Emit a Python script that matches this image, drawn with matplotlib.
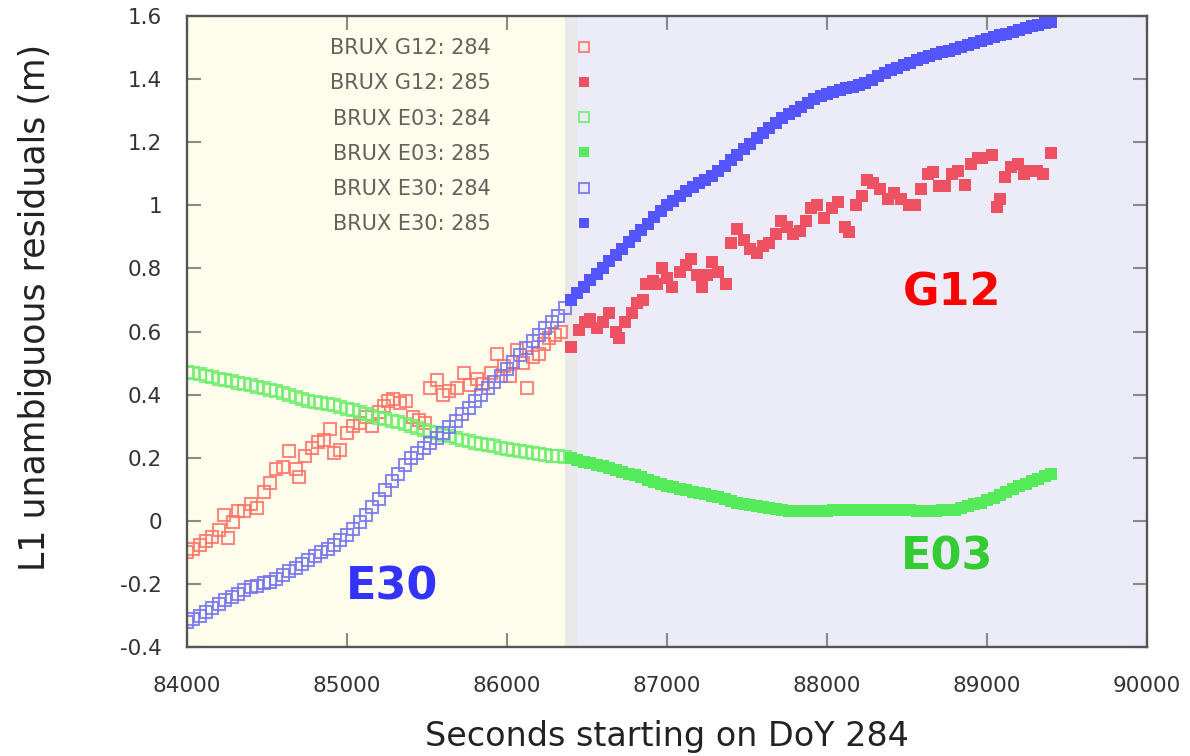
import numpy as np
import matplotlib
matplotlib.use("Agg")
import matplotlib.pyplot as plt
from matplotlib.ticker import FuncFormatter

# ---- data (seconds from DoY 284, residuals in metres) ----
STEP = 40  # sampling of the E30 / E03 tracks

e30_284 = [
    -0.320, -0.310, -0.300, -0.290, -0.275, -0.262, -0.250, -0.242, -0.232, -0.220,
    -0.210, -0.205, -0.198, -0.195, -0.185, -0.172, -0.160, -0.148, -0.138, -0.125,
    -0.112, -0.100, -0.088, -0.075, -0.060, -0.045, -0.025, -0.005, 0.020, 0.045,
    0.070, 0.098, 0.125, 0.150, 0.178, 0.200, 0.215, 0.232, 0.248, 0.262,
    0.280, 0.298, 0.318, 0.338, 0.358, 0.380, 0.400, 0.420, 0.440, 0.460,
    0.480, 0.502, 0.525, 0.548, 0.570, 0.590, 0.610, 0.630, 0.650, 0.675,
]
e30_285 = [
    0.700, 0.722, 0.742, 0.762, 0.782, 0.802, 0.822, 0.842, 0.862, 0.882,
    0.902, 0.922, 0.942, 0.962, 0.982, 1.000, 1.015, 1.030, 1.045, 1.058,
    1.070, 1.080, 1.092, 1.108, 1.125, 1.142, 1.160, 1.178, 1.195, 1.212,
    1.228, 1.245, 1.260, 1.275, 1.288, 1.300, 1.312, 1.325, 1.336, 1.345,
    1.352, 1.360, 1.366, 1.370, 1.374, 1.380, 1.388, 1.398, 1.408, 1.418,
    1.428, 1.436, 1.444, 1.452, 1.460, 1.466, 1.472, 1.478, 1.484, 1.490,
    1.496, 1.502, 1.508, 1.514, 1.520, 1.526, 1.532, 1.538, 1.544, 1.550,
    1.556, 1.562, 1.567, 1.572, 1.576, 1.580,
]
e03_284 = [
    0.472, 0.468, 0.464, 0.460, 0.455, 0.450, 0.446, 0.442, 0.438, 0.434,
    0.430, 0.425, 0.420, 0.415, 0.410, 0.404, 0.398, 0.392, 0.386, 0.381,
    0.377, 0.374, 0.370, 0.366, 0.361, 0.356, 0.350, 0.344, 0.338, 0.332,
    0.327, 0.322, 0.317, 0.312, 0.306, 0.300, 0.294, 0.288, 0.283, 0.278,
    0.273, 0.268, 0.262, 0.257, 0.252, 0.248, 0.244, 0.240, 0.236, 0.232,
    0.229, 0.226, 0.222, 0.219, 0.216, 0.213, 0.210, 0.207, 0.204, 0.201,
]
e03_285 = [
    0.198, 0.193, 0.188, 0.183, 0.178, 0.173, 0.168, 0.162, 0.156, 0.150,
    0.144, 0.138, 0.131, 0.124, 0.117, 0.111, 0.106, 0.101, 0.097, 0.093,
    0.089, 0.085, 0.080, 0.075, 0.069, 0.063, 0.058, 0.053, 0.049, 0.046,
    0.043, 0.040, 0.037, 0.034, 0.032, 0.031, 0.030, 0.031, 0.032, 0.032,
    0.032, 0.033, 0.034, 0.035, 0.036, 0.036, 0.036, 0.035, 0.035, 0.034,
    0.034, 0.034, 0.034, 0.033, 0.032, 0.032, 0.032, 0.032, 0.033, 0.034,
    0.036, 0.040, 0.046, 0.052, 0.058, 0.065, 0.073, 0.082, 0.092, 0.102,
    0.110, 0.118, 0.126, 0.134, 0.141, 0.147,
]

g12_284_t = [
    84000, 84040, 84080, 84120, 84160, 84200, 84230, 84260, 84290, 84320,
    84360, 84400, 84440, 84480, 84520, 84560, 84600, 84640, 84680, 84700,
    84740, 84780, 84820, 84860, 84895, 84920, 84960, 85000, 85040, 85080,
    85120, 85160, 85200, 85230, 85260, 85290, 85330, 85370, 85410, 85450,
    85490, 85520, 85560, 85600, 85640, 85690, 85730, 85770, 85810, 85850,
    85900, 85940, 85980, 86020, 86060, 86100, 86125, 86160, 86200, 86230,
    86260, 86300, 86340,
]
g12_284_v = [
    -0.100, -0.090, -0.075, -0.065, -0.050, -0.030, 0.020, -0.055, -0.005, 0.030,
    0.030, 0.055, 0.040, 0.090, 0.120, 0.165, 0.170, 0.220, 0.165, 0.140,
    0.205, 0.230, 0.250, 0.255, 0.290, 0.215, 0.225, 0.280, 0.300, 0.310,
    0.330, 0.300, 0.345, 0.365, 0.380, 0.385, 0.375, 0.380, 0.330, 0.320,
    0.310, 0.420, 0.445, 0.400, 0.410, 0.420, 0.470, 0.430, 0.450, 0.435,
    0.470, 0.530, 0.490, 0.460, 0.540, 0.500, 0.420, 0.520, 0.530, 0.560,
    0.580, 0.590, 0.600,
]
g12_285_t = [
    86400, 86450, 86490, 86520, 86560, 86600, 86640, 86680, 86700, 86740,
    86780, 86810, 86850, 86870, 86910, 86940, 86970, 87000, 87030, 87080,
    87120, 87150, 87190, 87220, 87250, 87280, 87320, 87370, 87400, 87440,
    87480, 87520, 87560, 87600, 87640, 87680, 87710, 87750, 87790, 87830,
    87870, 87900, 87940, 87980, 88030, 88070, 88110, 88140, 88180, 88220,
    88250, 88290, 88330, 88380, 88420, 88460, 88510, 88550, 88590, 88630,
    88660, 88700, 88740, 88780, 88820, 88860, 88900, 88940, 88970, 89030,
    89060, 89080, 89110, 89150, 89190, 89230, 89270, 89310, 89350, 89400,
]
g12_285_v = [
    0.550, 0.605, 0.630, 0.640, 0.610, 0.630, 0.660, 0.600, 0.580, 0.630,
    0.660, 0.690, 0.700, 0.750, 0.760, 0.750, 0.800, 0.770, 0.740, 0.790,
    0.810, 0.830, 0.780, 0.740, 0.780, 0.820, 0.790, 0.750, 0.880, 0.925,
    0.890, 0.860, 0.850, 0.870, 0.880, 0.910, 0.950, 0.930, 0.910, 0.920,
    0.950, 0.990, 1.000, 0.960, 0.990, 1.010, 0.930, 0.915, 1.000, 1.030,
    1.080, 1.070, 1.050, 1.020, 1.040, 1.020, 1.000, 1.000, 1.050, 1.100,
    1.105, 1.060, 1.060, 1.100, 1.110, 1.065, 1.130, 1.150, 1.150, 1.160,
    0.995, 1.020, 1.090, 1.120, 1.130, 1.100, 1.110, 1.110, 1.100, 1.165,
]

day284_end = 86362
day285_start = 86437

# ---- figure ----
fig = plt.figure(figsize=(11.9, 7.56), dpi=100)
ax = fig.add_axes([0.157, 0.144, 0.807, 0.835])

ax.axvspan(84000, day284_end, color="#FFFEEC", zorder=0, lw=0)
ax.axvspan(day284_end, day285_start, color="#E9E9EA", zorder=0, lw=0)
ax.axvspan(day285_start, 90000, color="#ECECF9", zorder=0, lw=0)

t284 = np.arange(84000, 84000 + STEP * len(e30_284), STEP)
t285 = np.arange(86400, 86400 + STEP * len(e30_285), STEP)

red_o, red_f = "#FF7468", "#EE5262"
grn_o, grn_f = "#6EEE6E", "#55EA5A"
blu_o, blu_f = "#7474EE", "#5555FF"

ms_open = dict(marker="s", ls="none", ms=8.4, mfc="none", mew=1.5, alpha=0.85)
ms_fill = dict(marker="s", ls="none", ms=9.0, mew=0)

ax.plot(g12_284_t, g12_284_v, mec=red_o, label="BRUX G12: 284", **ms_open)
ax.plot(g12_285_t, g12_285_v, mfc=red_f, label="BRUX G12: 285", **ms_fill)
ax.plot(t284, e03_284, mec=grn_o, label="BRUX E03: 284", **ms_open)
ax.plot(t285[:len(e03_285)], e03_285, mfc=grn_f, label="BRUX E03: 285", **ms_fill)
ax.plot(t284, e30_284, mec=blu_o, label="BRUX E30: 284", **ms_open)
ax.plot(t285, e30_285, mfc=blu_f, label="BRUX E30: 285", **ms_fill)

ax.set_xlim(84000, 90000)
ax.set_ylim(-0.4, 1.6)
ax.set_xticks(np.arange(84000, 90001, 1000))
ax.set_yticks(np.arange(-0.4, 1.61, 0.2))
ax.yaxis.set_major_formatter(FuncFormatter(lambda v, p: "%g" % round(v, 2)))

ax.tick_params(direction="in", length=10, width=1.5, color="#8A8A8A",
               top=True, right=True, labelsize=15.5, labelcolor="#333333")
ax.tick_params(axis="y", pad=18)
ax.tick_params(axis="x", pad=21)
for s in ax.spines.values():
    s.set_color("#555555")
    s.set_linewidth(1.7)

leg = ax.legend(loc="upper left", bbox_to_anchor=(0.1403, 0.978), frameon=False,
                markerfirst=False, fontsize=15, labelcolor="#62625A",
                handlelength=1.0, handletextpad=4.0, labelspacing=0.73,
                borderaxespad=0.0)
for h in leg.legend_handles:
    h.set_markersize(7.5)

ax.text(88781, 0.722, "G12", color="#FF0000", fontsize=32, fontweight="bold",
        ha="center", va="center")
ax.text(88750, -0.115, "E03", color="#33CC33", fontsize=32, fontweight="bold",
        ha="center", va="center")
ax.text(85281, -0.21, "E30", color="#3333FF", fontsize=32, fontweight="bold",
        ha="center", va="center")

fig.text(35 / 1190, 1 - 307 / 756, "L1 unambiguous residuals (m)", rotation=90,
         ha="center", va="center", fontsize=25, color="#222222",
         family=["Liberation Sans Narrow", "DejaVu Sans"])
fig.text(667 / 1190, 1 - 746 / 756, "Seconds starting on DoY 284",
         ha="center", va="baseline", fontsize=24, color="#222222")

fig.savefig("out.png", dpi=100)
